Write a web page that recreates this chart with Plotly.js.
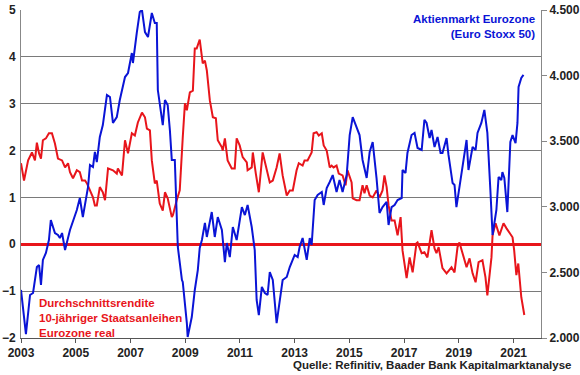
<!DOCTYPE html>
<html>
<head>
<meta charset="utf-8">
<script src="https://cdn.plot.ly/plotly-3.0.1.min.js"></script>
<style>html,body{margin:0;padding:0;background:#fff;}#chart{width:580px;height:375px;}</style>
</head>
<body>
<div id="chart"></div>
<script>
// Euro Stoxx 50 (right axis) – time as decimal years
const stoxxYears = [2003.0,2003.07,2003.18,2003.33,2003.44,2003.58,2003.66,2003.73,2003.80,2003.91,2004.02,2004.09,2004.24,2004.35,2004.42,2004.50,2004.61,2004.79,2005.04,2005.15,2005.26,2005.45,2005.52,2005.63,2005.70,2005.77,2005.88,2005.99,2006.14,2006.25,2006.36,2006.50,2006.61,2006.80,2006.91,2007.05,2007.09,2007.23,2007.34,2007.42,2007.53,2007.64,2007.78,2007.89,2007.96,2008.0,2008.18,2008.26,2008.36,2008.44,2008.51,2008.62,2008.73,2008.88,2008.91,2009.06,2009.09,2009.24,2009.35,2009.46,2009.53,2009.61,2009.72,2009.79,2009.97,2010.08,2010.19,2010.34,2010.45,2010.52,2010.63,2010.74,2010.88,2011.07,2011.18,2011.28,2011.43,2011.54,2011.61,2011.69,2011.80,2011.91,2012.01,2012.09,2012.20,2012.34,2012.45,2012.56,2012.71,2012.82,2013.0,2013.11,2013.18,2013.29,2013.44,2013.55,2013.62,2013.73,2013.84,2013.99,2014.06,2014.17,2014.28,2014.39,2014.53,2014.64,2014.75,2014.90,2015.01,2015.12,2015.19,2015.37,2015.48,2015.63,2015.74,2015.85,2015.99,2016.10,2016.21,2016.36,2016.43,2016.54,2016.65,2016.76,2016.91,2016.94,2017.05,2017.12,2017.27,2017.38,2017.49,2017.64,2017.74,2017.82,2017.93,2018.0,2018.11,2018.22,2018.33,2018.40,2018.55,2018.62,2018.77,2018.84,2018.91,2019.06,2019.17,2019.28,2019.35,2019.50,2019.61,2019.68,2019.82,2019.93,2020.04,2020.15,2020.23,2020.37,2020.45,2020.55,2020.59,2020.66,2020.77,2020.88,2020.96,2021.07,2021.14,2021.18,2021.28,2021.36];
const stoxxValues = [2366,2213,2030,2328,2343,2541,2556,2404,2595,2648,2747,2899,2800,2785,2762,2800,2671,2823,2976,3067,2922,3151,3319,3303,3418,3341,3532,3623,3852,3837,3639,3684,3814,3989,4020,4172,4096,4325,4485,4500,4332,4294,4477,4401,4401,3890,3623,3814,3776,3585,3357,3357,2694,2442,2427,2114,2008,2160,2366,2518,2686,2747,2877,2770,2960,2770,2922,2823,2579,2724,2617,2846,2747,2998,2937,3014,2846,2671,2290,2175,2389,2343,2328,2503,2442,2114,2274,2442,2465,2541,2633,2617,2694,2762,2595,2762,2709,3052,3090,3113,3014,3143,3189,3242,3113,3204,3113,3242,3547,3684,3646,3547,3357,3220,3418,3494,3220,2953,2998,3037,2861,2998,3014,3052,3067,3280,3258,3410,3547,3563,3448,3433,3662,3639,3524,3585,3456,3532,3410,3410,3524,3395,3181,3166,2998,3227,3357,3509,3280,3456,3433,3563,3639,3738,3563,3128,2785,2976,3227,3204,3265,3220,2960,3494,3547,3486,3639,3913,3982,4005];

// Real 10y government bond yield Eurozone (left axis, %)
const yieldYears = [2003.0,2003.11,2003.26,2003.40,2003.51,2003.58,2003.66,2003.73,2003.80,2003.91,2004.02,2004.13,2004.24,2004.35,2004.50,2004.61,2004.72,2004.79,2004.90,2005.04,2005.15,2005.23,2005.34,2005.41,2005.52,2005.63,2005.70,2005.77,2005.88,2005.99,2006.07,2006.18,2006.36,2006.50,2006.54,2006.69,2006.80,2006.91,2007.05,2007.16,2007.27,2007.42,2007.53,2007.60,2007.71,2007.78,2007.89,2007.96,2008.07,2008.18,2008.26,2008.36,2008.51,2008.55,2008.69,2008.80,2008.91,2008.99,2009.06,2009.17,2009.28,2009.35,2009.42,2009.53,2009.64,2009.72,2009.79,2009.90,2010.01,2010.12,2010.19,2010.34,2010.37,2010.45,2010.55,2010.70,2010.81,2010.88,2010.99,2011.10,2011.25,2011.28,2011.43,2011.47,2011.58,2011.69,2011.83,2011.94,2012.09,2012.20,2012.34,2012.45,2012.56,2012.71,2012.82,2012.93,2013.07,2013.15,2013.29,2013.36,2013.47,2013.62,2013.69,2013.80,2013.88,2013.99,2014.06,2014.17,2014.28,2014.35,2014.42,2014.53,2014.61,2014.75,2014.86,2014.93,2015.08,2015.12,2015.26,2015.37,2015.48,2015.55,2015.63,2015.74,2015.85,2015.99,2016.10,2016.21,2016.28,2016.36,2016.43,2016.54,2016.65,2016.76,2016.87,2016.94,2017.09,2017.20,2017.31,2017.45,2017.49,2017.64,2017.74,2017.85,2017.96,2018.0,2018.11,2018.18,2018.26,2018.40,2018.55,2018.73,2018.84,2018.95,2019.02,2019.13,2019.28,2019.39,2019.50,2019.61,2019.72,2019.86,2019.97,2020.04,2020.19,2020.23,2020.34,2020.48,2020.63,2020.74,2020.85,2020.96,2021.02,2021.10,2021.17,2021.28,2021.39];
const yieldValues = [1.73,1.36,1.79,1.96,1.79,2.17,1.94,1.83,2.22,2.26,2.37,2.37,2.15,1.83,1.79,1.64,1.73,1.54,1.41,1.58,1.54,1.36,1.36,1.30,1.15,1.00,0.83,0.83,1.22,1.11,0.94,1.62,1.58,1.51,1.62,1.47,2.22,1.94,2.37,2.32,2.60,2.81,2.71,2.47,2.43,1.79,1.30,1.36,0.87,0.72,1.11,0.98,0.58,0.62,0.94,1.15,2.28,3.01,2.86,3.24,3.28,4.18,4.18,4.37,3.86,3.92,3.71,3.07,2.71,2.69,2.22,2.07,2.00,2.26,1.79,1.62,1.62,2.26,2.11,1.86,1.75,1.58,1.64,1.96,1.51,1.11,1.96,1.68,1.32,1.36,1.64,1.94,1.47,1.04,1.15,1.15,1.58,1.73,1.68,1.79,1.79,1.96,2.37,2.39,2.32,2.37,2.11,2.00,1.64,1.68,1.64,1.68,1.51,1.47,1.26,1.58,1.32,0.98,0.94,0.94,1.26,1.09,1.26,1.04,1.00,1.15,1.00,1.15,1.47,1.22,0.83,0.51,0.51,0.19,0.58,-0.13,-0.72,-0.28,-0.60,0.02,0.04,-0.19,-0.17,-0.28,0.09,0.30,-0.09,-0.19,-0.06,-0.51,-0.62,-0.49,-0.60,-0.06,0.04,-0.19,-0.49,-0.30,-0.62,-0.81,-0.38,-0.34,-0.70,-1.09,-0.28,0.19,0.45,0.19,0.45,0.34,0.23,0.15,-0.13,-0.66,-0.41,-1.13,-1.51];

const xTickYears = [2003,2005,2007,2009,2011,2013,2015,2017,2019,2021];
const leftTicks = [-2,-1,0,1,2,3,4,5];
const rightTicks = [2000,2500,3000,3500,4000,4500];

const FONT = 'Liberation Sans, Arial, sans-serif';
const BLUE = '#0a14d6';
const RED = '#e8151b';

const traces = [
  {x: yieldYears, y: yieldValues, type: 'scatter', mode: 'lines', yaxis: 'y',
   line: {color: RED, width: 2}, hoverinfo: 'skip'},
  {x: stoxxYears, y: stoxxValues, type: 'scatter', mode: 'lines', yaxis: 'y2',
   line: {color: BLUE, width: 2}, hoverinfo: 'skip'}
];

const layout = {
  width: 580, height: 375,
  margin: {l: 21, r: 39, t: 10, b: 37},
  paper_bgcolor: '#fff', plot_bgcolor: '#fff',
  showlegend: false,
  separators: ',.',
  font: {family: FONT, size: 12, color: '#222'},
  xaxis: {
    type: 'linear', range: [2003, 2022],
    tickvals: xTickYears, ticktext: xTickYears.map(String),
    ticks: 'outside', ticklen: 4, tickcolor: '#555',
    showline: true, linecolor: '#555', linewidth: 1,
    showgrid: false, zeroline: false,
    tickfont: {family: FONT, size: 12, color: '#222', weight: 'bold'}
  },
  yaxis: {
    range: [-2, 5], tickvals: leftTicks,
    ticks: '', showline: true, linecolor: '#888', linewidth: 1,
    showgrid: true, gridcolor: '#7a7a7a', gridwidth: 1,
    zeroline: true, zerolinecolor: RED, zerolinewidth: 2.5,
    tickfont: {family: FONT, size: 12, color: '#222', weight: 'bold'},
    ticklabelstandoff: 2
  },
  yaxis2: {
    overlaying: 'y', side: 'right', range: [2000, 4500],
    tickvals: rightTicks, tickformat: ',d',
    ticks: 'outside', ticklen: 5, tickcolor: '#888',
    showline: true, linecolor: '#888', linewidth: 1,
    showgrid: false, zeroline: false,
    tickfont: {family: FONT, size: 12, color: '#222', weight: 'bold'}
  },
  annotations: [
    {xref: 'paper', yref: 'paper', x: 0.992, y: 0.997, xanchor: 'right', yanchor: 'top',
     align: 'right', showarrow: false,
     text: '<b>Aktienmarkt Eurozone<br>(Euro Stoxx 50)</b>',
     font: {family: FONT, size: 11.5, color: BLUE}},
    {xref: 'paper', yref: 'paper', x: 0.031, y: 0.13, xanchor: 'left', yanchor: 'top',
     align: 'left', showarrow: false,
     text: '<b>Durchschnittsrendite<br>10-jähriger Staatsanleihen<br>Eurozone real</b>',
     font: {family: FONT, size: 11.5, color: RED}},
    {xref: 'paper', yref: 'paper', x: 1.0615, y: -0.082, xanchor: 'right', yanchor: 'middle',
     align: 'right', showarrow: false,
     text: '<b>Quelle: Refinitiv, Baader Bank Kapitalmarktanalyse</b>',
     font: {family: FONT, size: 11.5, color: '#222'}}
  ]
};

Plotly.newPlot('chart', traces, layout, {staticPlot: true, displayModeBar: false});
</script>
</body>
</html>
